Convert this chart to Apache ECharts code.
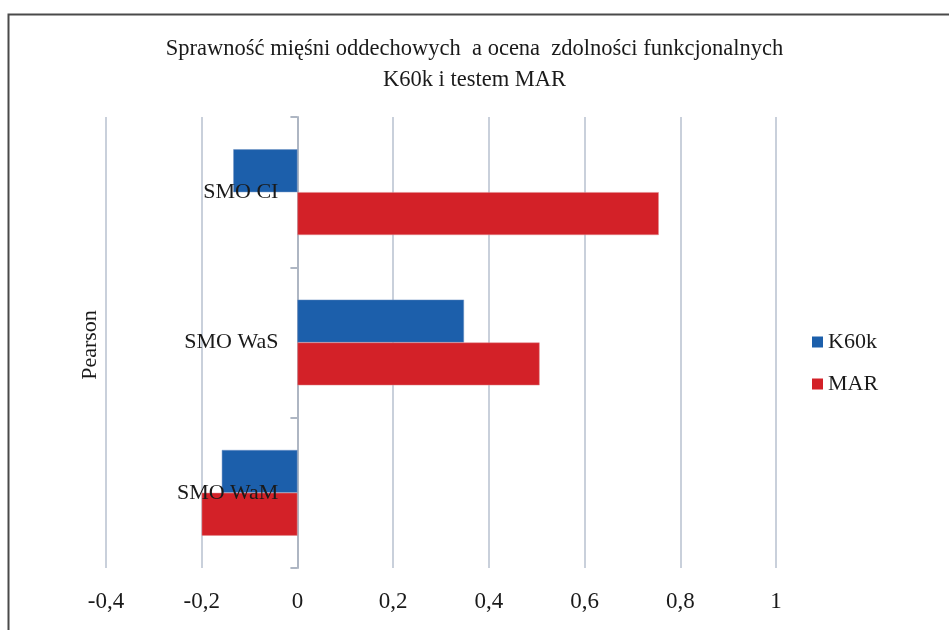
<!DOCTYPE html>
<html>
<head>
<meta charset="utf-8">
<script src="https://cdn.jsdelivr.net/npm/echarts@6/dist/echarts.min.js"></script>
<style>
html,body{margin:0;padding:0;background:#fff;}
#chart{width:949px;height:630px;}
</style>
</head>
<body>
<div id="chart"></div>
<script>
const titleText = 'Sprawność mięśni oddechowych  a ocena  zdolności funkcjonalnych\nK60k i testem MAR';
const axisTitle = 'Pearson';
const categories = ['SMO CI', 'SMO WaS', 'SMO WaM'];
const seriesNames = ['K60k', 'MAR'];
const k60kValues = [-0.134, 0.348, -0.158];
const marValues = [0.755, 0.506, -0.2];
const xMin = -0.4, xMax = 1, xStep = 0.2;

const serif = '"Liberation Serif", "Times New Roman", serif';
const gridLeft = 106, gridRight = 173;
const plotWidth = 949 - gridLeft - gridRight;
const zeroOffset = plotWidth * (0 - xMin) / (xMax - xMin);

const chart = echarts.init(document.getElementById('chart'), null, {renderer: 'canvas'});
chart.setOption({
  animation: false,
  backgroundColor: '#ffffff',
  title: {
    text: titleText,
    left: 'center',
    top: 29,
    textStyle: {fontFamily: serif, fontSize: 22.5, fontWeight: 'normal', color: '#1a1a1a', lineHeight: 31}
  },
  graphic: [
    {type: 'rect', left: 6, top: 12, shape: {width: 1000, height: 700},
     style: {fill: 'none', stroke: '#4a4a4a', lineWidth: 2}, silent: true},
    {type: 'text', x: 90, y: 345, rotation: Math.PI / 2,
     style: {text: axisTitle, font: '22px ' + serif, fill: '#1a1a1a', align: 'center', verticalAlign: 'middle'}}
  ],
  legend: {
    orient: 'vertical',
    left: 812,
    top: 331,
    padding: 0,
    itemWidth: 11,
    itemHeight: 11,
    itemGap: 20,
    icon: 'rect',
    itemStyle: {borderWidth: 0},
    textStyle: {fontFamily: serif, fontSize: 22, color: '#1a1a1a'},
    data: seriesNames
  },
  grid: {left: gridLeft, right: gridRight, top: 117, bottom: 62, containLabel: false, outerBoundsMode: 'none'},
  xAxis: {
    type: 'value',
    min: xMin, max: xMax, interval: xStep,
    axisLine: {show: false},
    axisTick: {show: false},
    splitLine: {show: true, lineStyle: {color: '#c9d0db', width: 2}},
    axisLabel: {
      margin: 22,
      fontFamily: serif, fontSize: 23, color: '#1a1a1a',
      formatter: v => String(+(+v).toFixed(1)).replace('.', ',')
    }
  },
  yAxis: [
    {
      type: 'category',
      data: categories,
      inverse: true,
      axisLine: {show: true, onZero: true, lineStyle: {color: '#aeb6c3', width: 2}},
      axisTick: {show: true, length: 7, lineStyle: {color: '#aeb6c3', width: 2}},
      axisLabel: {show: false},
      splitLine: {show: false}
    },
    {
      type: 'category',
      data: categories,
      inverse: true,
      position: 'left',
      offset: -zeroOffset,
      axisLine: {show: false, onZero: false},
      axisTick: {show: false},
      axisLabel: {margin: 19, fontFamily: serif, fontSize: 22, color: '#1a1a1a'},
      splitLine: {show: false},
      z: 5
    }
  ],
  series: [
    {name: seriesNames[0], type: 'bar', data: k60kValues, barGap: '0%', barCategoryGap: '43%',
     itemStyle: {color: '#1c5fab', borderColor: '#6f93c4', borderWidth: 0.5}, z: 1},
    {name: seriesNames[1], type: 'bar', data: marValues, barGap: '0%', barCategoryGap: '43%',
     itemStyle: {color: '#d32128', borderColor: '#e08a8c', borderWidth: 0.5}, z: 1}
  ]
});
</script>
</body>
</html>
